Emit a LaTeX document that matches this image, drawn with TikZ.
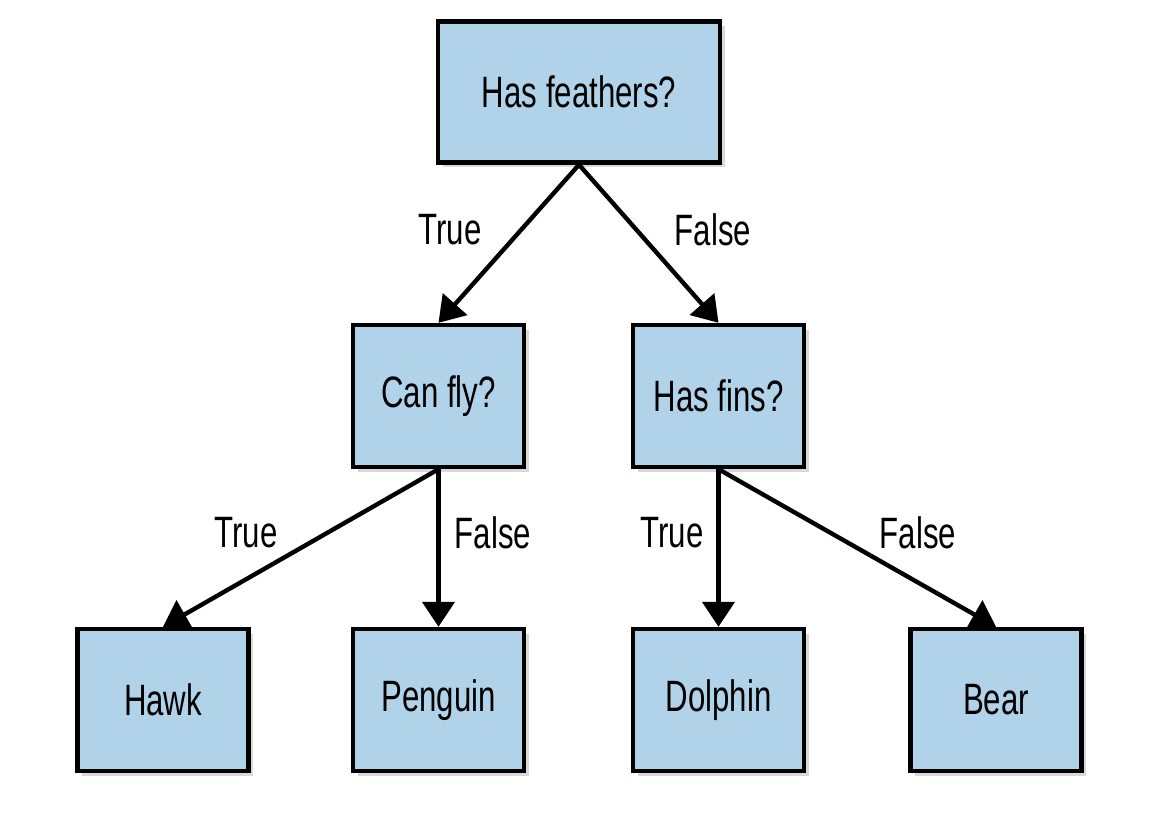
\documentclass[tikz,border=0pt]{standalone}
\usepackage{fontspec}
\setmainfont[FakeStretch=0.71]{Liberation Sans}
\usetikzlibrary{arrows.meta,shadows}
\definecolor{sky}{RGB}{177,211,233}
\definecolor{ink}{RGB}{0,0,0}
\tikzset{
  >={Triangle[length=5mm,width=6.4mm]},
  box/.style={draw=ink,fill=sky,line width=2.5pt,minimum height=28.4mm,minimum width=34.2mm,
    align=center,font=\fontsize{25}{29}\selectfont,
    drop shadow={shadow xshift=0.9mm,shadow yshift=-0.9mm,opacity=0.3}},
  flow/.style={->,line width=2.5pt,draw=ink},
  tag/.style={font=\fontsize{25}{29}\selectfont,text=ink},
}
\begin{document}
\begin{tikzpicture}
  \useasboundingbox (0,0) rectangle (23.04,-16.48);
  % decision boxes
  \node[box,minimum width=56.4mm,minimum height=28.2mm] (feathers) at (11.58,-1.84) {Has feathers?};
  \node[box] (fly) at (8.77,-7.92) {Can fly?};
  \node[box] (fins) at (14.37,-7.92) {Has fins?};
  % leaves
  \node[box] (hawk) at (3.26,-14.0) {Hawk};
  \node[box] (penguin) at (8.77,-14.0) {Penguin};
  \node[box] (dolphin) at (14.37,-14.0) {Dolphin};
  \node[box] (bear) at (19.92,-14.0) {Bear};
  % edges
  \draw[flow] (feathers.south) -- (fly.north);
  \draw[flow] (feathers.south) -- (fins.north);
  \draw[flow] (fly.south) -- (hawk.north);
  \draw[flow] (fly.south) -- (penguin.north);
  \draw[flow] (fins.south) -- (dolphin.north);
  \draw[flow] (fins.south) -- (bear.north);
  \node[tag] (t1) at (9.0,-4.6) {True};
  \node[tag] (f1) at (14.26,-4.6) {False};
  \node[tag] (t2) at (4.92,-10.66) {True};
  \node[tag] (f2) at (9.86,-10.66) {False};
  \node[tag] (t3) at (13.44,-10.66) {True};
  \node[tag] (f3) at (18.36,-10.66) {False};
\end{tikzpicture}
\end{document}
